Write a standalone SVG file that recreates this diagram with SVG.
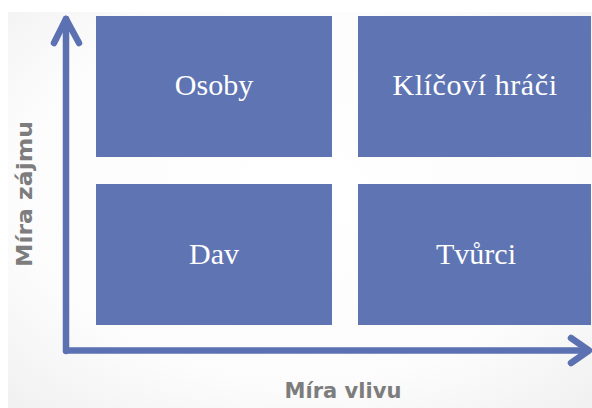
<svg xmlns="http://www.w3.org/2000/svg" width="592" height="408" viewBox="0 0 592 408">
<defs>
<radialGradient id="bg" cx="50%" cy="45%" r="75%">
<stop offset="0" stop-color="#ffffff"/>
<stop offset="0.65" stop-color="#fcfcfc"/>
<stop offset="1" stop-color="#f0f0f0"/>
</radialGradient>
<style>
.box{fill:#5f75b3;}
.lbl{font-family:"Liberation Serif","Times New Roman",serif;font-size:30px;fill:#ffffff;text-anchor:middle;}
.axis{stroke:#5b71b1;stroke-width:6.5;fill:none;stroke-linecap:round;stroke-linejoin:round;}
.ax{font-family:"DejaVu Sans","Liberation Sans",sans-serif;font-weight:bold;font-size:22px;fill:#7d7d7d;text-anchor:middle;}
</style>
</defs>
<rect x="0" y="0" width="592" height="408" fill="#ffffff"/>
<rect x="8" y="12" width="584" height="396" fill="url(#bg)"/>
<g id="osoby">
<rect class="box" x="96" y="16" width="236" height="141"/>
<text class="lbl" x="214" y="95">Osoby</text>
</g>
<g id="klicovi-hraci">
<rect class="box" x="358" y="16" width="233" height="141"/>
<text class="lbl" x="475" y="95" letter-spacing="0.6">Klíčoví hráči</text>
</g>
<g id="dav">
<rect class="box" x="96" y="184" width="236" height="141"/>
<text class="lbl" x="214" y="264">Dav</text>
</g>
<g id="tvurci">
<rect class="box" x="358" y="184" width="233" height="141"/>
<text class="lbl" x="476" y="264">Tvůrci</text>
</g>
<g id="connectors">
<path class="axis" d="M66 351 V19" stroke-linecap="butt"/>
<path class="axis" d="M54 43 L66 19 L79 43"/>
<path class="axis" d="M67 350.5 H587" stroke-linecap="butt"/>
<path class="axis" d="M571 338 L589 350.5 L571 363"/>
</g>
<g id="axis-labels">
<text class="ax" x="343" y="398" textLength="117" lengthAdjust="spacingAndGlyphs">Míra vlivu</text>
<text class="ax" transform="translate(32 194) rotate(-90)" textLength="146" lengthAdjust="spacingAndGlyphs">Míra zájmu</text>
</g>
</svg>
